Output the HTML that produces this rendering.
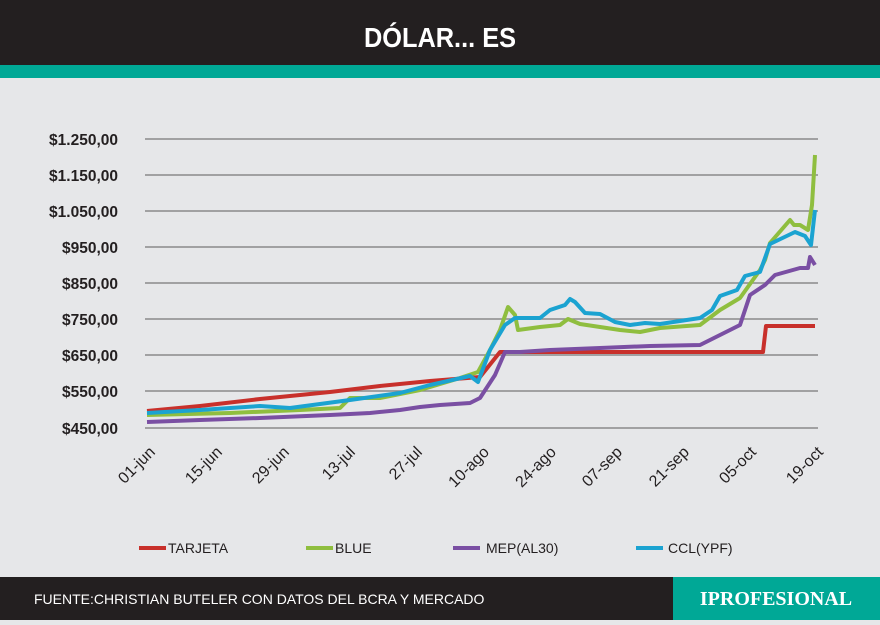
<!DOCTYPE html>
<html><head><meta charset="utf-8"><style>
body{margin:0;width:880px;height:620px;overflow:hidden;background:#e6e7e9;font-family:"Liberation Sans",sans-serif}
</style></head><body>
<svg width="880" height="620" xmlns="http://www.w3.org/2000/svg">
<rect x="0" y="0" width="880" height="620" fill="#e6e7e9"/>
<rect x="0" y="0" width="880" height="66" fill="#231f20"/>
<rect x="0" y="65" width="880" height="13" fill="#00a896"/>
<text x="440" y="47" text-anchor="middle" fill="#fff" font-size="28" font-weight="bold" font-family="Liberation Sans Narrow,Liberation Sans,sans-serif" textLength="152" lengthAdjust="spacingAndGlyphs">DÓLAR... ES</text>
<g stroke="#8a8a8a" stroke-width="1.5">
<line x1="145" y1="139" x2="818" y2="139"/><line x1="145" y1="175" x2="818" y2="175"/><line x1="145" y1="211" x2="818" y2="211"/><line x1="145" y1="247" x2="818" y2="247"/><line x1="145" y1="283" x2="818" y2="283"/><line x1="145" y1="319" x2="818" y2="319"/><line x1="145" y1="355" x2="818" y2="355"/><line x1="145" y1="391" x2="818" y2="391"/><line x1="145" y1="428" x2="818" y2="428"/>
</g>
<g font-size="15.5" font-weight="bold" fill="#231f20" text-anchor="end">
<text x="118" y="145">$1.250,00</text><text x="118" y="181">$1.150,00</text><text x="118" y="217">$1.050,00</text><text x="118" y="253">$950,00</text><text x="118" y="289">$850,00</text><text x="118" y="325">$750,00</text><text x="118" y="361">$650,00</text><text x="118" y="397">$550,00</text><text x="118" y="434">$450,00</text>
</g>
<g font-size="16" fill="#231f20" text-anchor="end">
<text transform="translate(156,453) rotate(-45)">01-jun</text>
<text transform="translate(223,453) rotate(-45)">15-jun</text>
<text transform="translate(290,453) rotate(-45)">29-jun</text>
<text transform="translate(356,453) rotate(-45)">13-jul</text>
<text transform="translate(423,453) rotate(-45)">27-jul</text>
<text transform="translate(490,453) rotate(-45)">10-ago</text>
<text transform="translate(557,453) rotate(-45)">24-ago</text>
<text transform="translate(623,453) rotate(-45)">07-sep</text>
<text transform="translate(690,453) rotate(-45)">21-sep</text>
<text transform="translate(757,453) rotate(-45)">05-oct</text>
<text transform="translate(824,453) rotate(-45)">19-oct</text>
</g>
<g fill="none" stroke-width="4" stroke-linejoin="round">
<polyline stroke="#c8302b" points="147,411 200,406 260,399 330,392 380,386 430,381 480,377 500,352 763,352 766,326 815,326"/>
<polyline stroke="#8fbe3f" points="147,415 230,413 300,410 340,408 350,398 380,398 420,390 460,378 478,372 490,350 500,330 508,307 515,315 518,330 540,327 560,325 568,319 580,324 600,327 620,330 640,332 660,328 700,325 720,310 740,298 760,270 765,260 770,243 790,220 794,225 800,225 808,230 812,205 815,155"/>
<polyline stroke="#7a4fa3" points="147,422 200,420 260,418 330,415 370,413 400,410 420,407 440,405 470,403 480,398 495,375 505,352 520,352 550,350 600,348 650,346 700,345 720,335 740,325 750,295 765,285 775,275 800,268 808,268 810,257 815,265"/>
<polyline stroke="#1ba3d1" points="147,413 200,410 260,406 290,408 320,404 350,400 400,393 430,385 470,376 478,382 490,350 505,325 515,318 540,318 550,310 565,305 570,299 575,302 585,313 600,314 615,322 630,325 645,323 660,324 700,318 712,310 720,296 737,290 745,276 760,272 770,244 795,232 805,236 811,245 815,210"/>
</g>
<g stroke-width="4"><line x1="139" y1="548" x2="166" y2="548" stroke="#c8302b"/><line x1="306" y1="548" x2="333" y2="548" stroke="#8fbe3f"/><line x1="453" y1="548" x2="480" y2="548" stroke="#7a4fa3"/><line x1="636" y1="548" x2="663" y2="548" stroke="#1ba3d1"/></g>
<g font-size="14" fill="#231f20"><text x="168" y="553">TARJETA</text><text x="335" y="553">BLUE</text><text x="486" y="553">MEP(AL30)</text><text x="668" y="553">CCL(YPF)</text></g>
<rect x="0" y="577" width="880" height="43" fill="#231f20"/>
<rect x="673" y="577" width="207" height="43" fill="#00a896"/>
<text x="34" y="604" fill="#fff" font-size="14">FUENTE:CHRISTIAN BUTELER CON DATOS DEL BCRA Y MERCADO</text>
<text x="776" y="605" text-anchor="middle" fill="#fff" font-size="20" font-weight="bold" font-family="Liberation Serif,serif">IPROFESIONAL</text>
</svg>
</body></html>
